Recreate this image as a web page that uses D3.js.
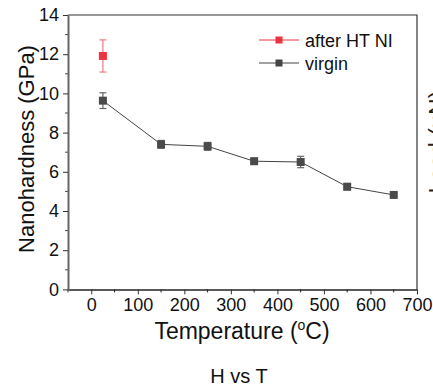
<!DOCTYPE html>
<html>
<head>
<meta charset="utf-8">
<script src="https://cdn.jsdelivr.net/npm/d3@7"></script>
<style>
  body { margin: 0; background: #fff; }
  svg { display: block; font-family: "Liberation Sans", Arial, sans-serif; }
</style>
</head>
<body>
<svg id="chart" width="433" height="389"></svg>
<script>
// data
const temps = [25, 150, 250, 350, 450, 550, 650];
const virgin = [9.63, 7.40, 7.30, 6.54, 6.50, 5.24, 4.82];
const virginErr = [0.40, 0.20, 0.20, 0.15, 0.29, 0.16, 0.08];
const htTemps = [25];
const htNI = [11.91];
const htErr = [0.82];
const xTicks = [0, 100, 200, 300, 400, 500, 600, 700];
const yTicks = [0, 2, 4, 6, 8, 10, 12, 14];

let svg = d3.select('#chart'),
  width = +svg.attr('width'),
  height = +svg.attr('height');

const plotL = 68, plotR = 417, plotT = 15, plotB = 289.4;

const x = d3.scaleLinear().domain([-50, 700]).range([plotL, plotR]);
const y = d3.scaleLinear().domain([0, 14]).range([plotB, plotT]);

// frame (top and right)
svg.append('path')
  .attr('d', `M${plotL},${plotT}H${plotR}V${plotB}`)
  .attr('fill', 'none')
  .attr('stroke', '#333')
  .attr('stroke-width', 1.2);

// minor ticks
const xMinor = d3.range(-50, 701, 50).filter(v => v % 100 !== 0);
svg.append('g').selectAll('line').data(xMinor).enter().append('line')
  .attr('x1', d => x(d)).attr('x2', d => x(d))
  .attr('y1', plotB).attr('y2', plotB + 3)
  .attr('stroke', '#222');
const yMinor = d3.range(1, 14, 2);
svg.append('g').selectAll('line').data(yMinor).enter().append('line')
  .attr('x1', plotL).attr('x2', plotL - 3)
  .attr('y1', d => y(d)).attr('y2', d => y(d))
  .attr('stroke', '#444');

// axes
const xAxis = svg.append('g')
  .attr('transform', `translate(0,${plotB})`)
  .call(d3.axisBottom(x).tickValues(xTicks).tickSize(5).tickSizeOuter(0).tickPadding(4));
const yAxis = svg.append('g')
  .attr('transform', `translate(${plotL},0)`)
  .call(d3.axisLeft(y).tickValues(yTicks).tickSize(5).tickSizeOuter(0).tickPadding(4));

xAxis.select('.domain').attr('stroke', '#222').attr('stroke-width', 1.5);
yAxis.select('.domain').attr('stroke', '#666').attr('stroke-width', 2);
[xAxis, yAxis].forEach(a => {
  a.selectAll('text').attr('font-size', 18).attr('fill', '#111')
    .attr('font-family', '"Liberation Sans", Arial, sans-serif');
  a.selectAll('.tick line').attr('stroke', '#333');
});

// virgin series
const line = d3.line().x(d => x(d[0])).y(d => y(d[1]));
svg.append('path')
  .datum(d3.zip(temps, virgin))
  .attr('d', line)
  .attr('fill', 'none')
  .attr('stroke', '#444')
  .attr('stroke-width', 1);

function errorBars(xs, ys, es, color) {
  const g = svg.append('g');
  const pts = d3.zip(xs, ys, es);
  g.selectAll('.v').data(pts).enter().append('line')
    .attr('x1', d => x(d[0])).attr('x2', d => x(d[0]))
    .attr('y1', d => y(d[1] - d[2])).attr('y2', d => y(d[1] + d[2]))
    .attr('stroke', color).attr('stroke-width', 1.2);
  [-1, 1].forEach(s => {
    g.selectAll('.c' + s).data(pts).enter().append('line')
      .attr('x1', d => x(d[0]) - 3.5).attr('x2', d => x(d[0]) + 3.5)
      .attr('y1', d => y(d[1] + s * d[2])).attr('y2', d => y(d[1] + s * d[2]))
      .attr('stroke', color).attr('stroke-width', 1.2);
  });
}

function markers(xs, ys, color) {
  svg.append('g').selectAll('rect').data(d3.zip(xs, ys)).enter().append('rect')
    .attr('x', d => x(d[0]) - 4).attr('y', d => y(d[1]) - 4)
    .attr('width', 8).attr('height', 8)
    .attr('fill', color);
}

errorBars(temps, virgin, virginErr, '#666');
markers(temps, virgin, '#4a4a4a');
errorBars(htTemps, htNI, htErr, '#f07a80');
markers(htTemps, htNI, '#ee3340');

// legend
const legend = [
  { name: 'after HT NI', color: '#ee3340', ly: 40 },
  { name: 'virgin', color: '#444', ly: 63 }
];
const lg = svg.append('g').selectAll('g').data(legend).enter().append('g');
lg.append('line')
  .attr('x1', 259).attr('x2', 299)
  .attr('y1', d => d.ly).attr('y2', d => d.ly)
  .attr('stroke', d => d.color).attr('stroke-width', 1);
lg.append('rect')
  .attr('x', 275.5).attr('y', d => d.ly - 3.5)
  .attr('width', 7).attr('height', 7)
  .attr('fill', d => d.color);
lg.append('text')
  .attr('x', 305).attr('y', d => d.ly + 6.5)
  .attr('font-size', 18).attr('fill', '#111')
  .text(d => d.name);

// axis titles
svg.append('text')
  .attr('transform', 'translate(33.5,149) rotate(-90)')
  .attr('text-anchor', 'middle')
  .attr('font-size', 22).attr('fill', '#111')
  .text('Nanohardness (GPa)');

const xt = svg.append('text')
  .attr('x', 242).attr('y', 339)
  .attr('text-anchor', 'middle')
  .attr('font-size', 23).attr('fill', '#111');
xt.append('tspan').text('Temperature (');
xt.append('tspan').attr('font-size', 14).attr('dy', -9).text('o');
xt.append('tspan').attr('dy', 9).text('C)');

svg.append('text')
  .attr('x', 239).attr('y', 383)
  .attr('text-anchor', 'middle')
  .attr('font-size', 20).attr('fill', '#111')
  .text('H vs T');

// neighbouring panel's title, cut off by the edge
svg.append('text')
  .attr('transform', 'translate(446,142) rotate(-90)')
  .attr('text-anchor', 'middle')
  .attr('font-size', 23).attr('fill', '#222')
  .text('Load (\u03bcN)');
</script>
</body>
</html>
